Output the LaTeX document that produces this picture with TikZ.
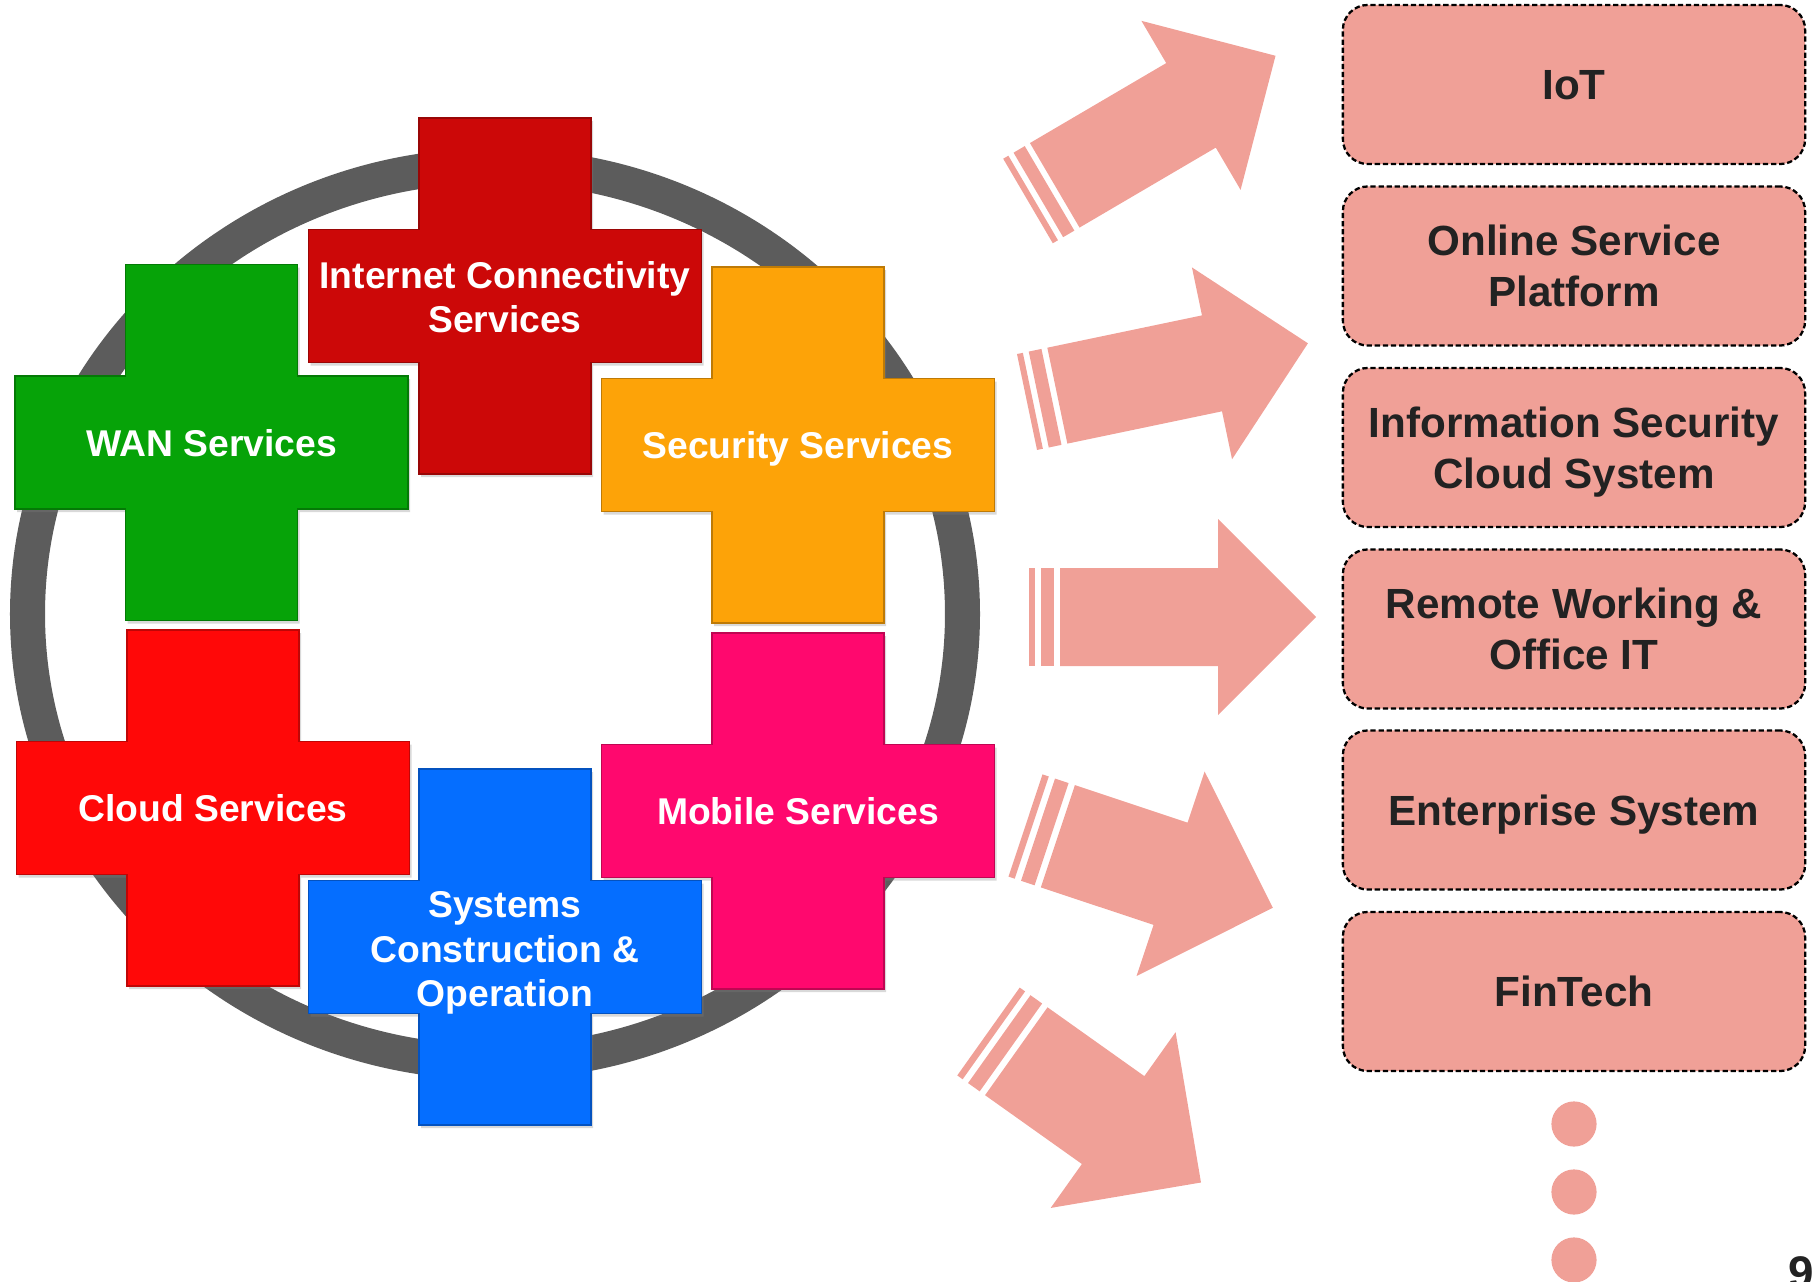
\documentclass[tikz,border=0pt]{standalone}
\usepackage{fontspec}
\setmainfont{Liberation Sans}
\usetikzlibrary{shadows}

\definecolor{salmon}{RGB}{240,160,151}
\definecolor{ringgray}{RGB}{92,92,92}
\definecolor{inetred}{RGB}{204,8,8}
\definecolor{wangreen}{RGB}{6,163,8}
\definecolor{secorange}{RGB}{253,163,8}
\definecolor{cloudred}{RGB}{255,8,8}
\definecolor{mobpink}{RGB}{255,8,110}
\definecolor{sysblue}{RGB}{5,110,255}
\definecolor{boxtext}{RGB}{34,34,34}

\tikzset{
	crosslabel/.style={text=white,font=\fontsize{10.6pt}{12.7pt}\selectfont\bfseries,align=center,inner sep=0pt,text depth=0pt},
	goalbox/.style={draw=black,dash pattern={on 1.5pt off 0.8pt},line width=0.65pt,fill=salmon,rounded corners=0.25cm,
		minimum width=4.62cm,minimum height=1.59cm,text=boxtext,font=\fontsize{12pt}{14.5pt}\selectfont\bfseries,align=center,
		inner sep=0pt,text depth=0pt},
	crossshade/.style={drop shadow={shadow xshift=0.6pt,shadow yshift=-0.9pt,opacity=.3}}
}

\begin{document}
\begin{tikzpicture}[x=0.01cm,y=-0.01cm]
	\useasboundingbox (0,0) rectangle (1814,1282);

	%ring
	\draw[ringgray,line width=0.35cm] (495,614) ellipse [x radius=467.5,y radius=448.5];

	%crosses
	\foreach \cx/\cy/\col in {211.5/442.5/wangreen, 505/296/inetred, 798/445/secorange,
		213/808/cloudred, 798/811/mobpink, 505/947/sysblue}{
		\begin{scope}[shift={(\cx,\cy)}]
			\fill[\col,draw=\col!75!black,line width=0.4pt,crossshade] (-86,-178) -- (86,-178) -- (86,-66.5) -- (196.5,-66.5)
				-- (196.5,66.5) -- (86,66.5) -- (86,178) -- (-86,178) -- (-86,66.5) -- (-196.5,66.5)
				-- (-196.5,-66.5) -- (-86,-66.5) -- cycle;
		\end{scope}
	}
	\node[crosslabel] (wan)    at (211.5,442.5) {WAN Services};
	\node[crosslabel] (inet)   at (505,297)     {Internet Connectivity\\Services};
	\node[crosslabel] (sec)    at (798,445)     {Security Services};
	\node[crosslabel] (cloud)  at (213,808)     {Cloud Services};
	\node[crosslabel] (mobile) at (798,811)     {Mobile Services};
	\node[crosslabel] (sysops) at (505,949)     {Systems\\Construction \&\\Operation};

	%arrows
	\foreach \x/\y/\a/\s/\b in {1028/201/30.4/1/189, 1027/402/11.8/1/189, 1029/617/0/1/189,
		1025.5/825.5/-18.4/1.1/139, 988.5/1031.5/-35.4/1.1/139}{
		\begin{scope}[shift={(\x,\y)},rotate=\a,scale=\s]
			\fill[salmon] (0,-49) rectangle (6,49);
			\fill[salmon] (12,-49) rectangle (25,49);
			\fill[salmon] (31,-49) -- (\b,-49) -- (\b,-98) -- (\b+98,0) -- (\b,98) -- (\b,49) -- (31,49) -- cycle;
		\end{scope}
	}

	%goals
	\node[goalbox] (iot)     at (1574,84.5)  {IoT};
	\node[goalbox] (osp)     at (1574,266)   {Online Service\\Platform};
	\node[goalbox] (iscs)    at (1574,447.5) {Information Security\\Cloud System};
	\node[goalbox] (remote)  at (1574,629)   {Remote Working \&\\Office IT};
	\node[goalbox] (erp)     at (1574,810)   {Enterprise System};
	\node[goalbox] (fintech) at (1574,991.5) {FinTech};

	%more
	\fill[salmon] (1574,1124) circle [radius=22.6];
	\fill[salmon] (1574,1192) circle [radius=22.6];
	\fill[salmon] (1574,1260) circle [radius=22.6];
	\node[anchor=base west,inner sep=0pt,text=boxtext,font=\fontsize{13pt}{15pt}\selectfont\bfseries] (pagenum) at (1788,1288) {9};
\end{tikzpicture}
\end{document}
